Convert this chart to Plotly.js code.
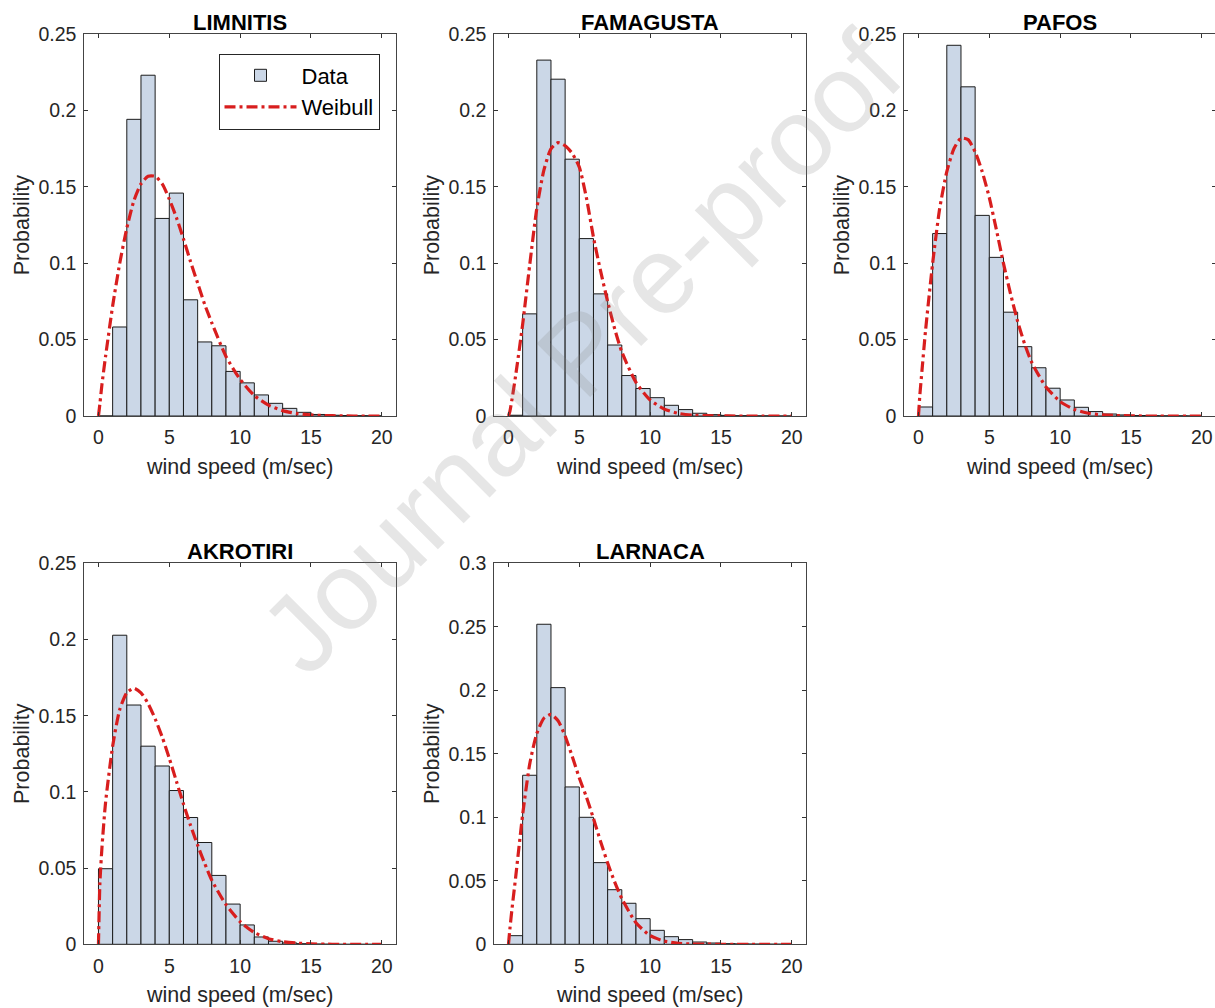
<!DOCTYPE html>
<html>
<head>
<meta charset="utf-8">
<script src="https://cdn.plot.ly/plotly-3.0.1.min.js"></script>
<style>
html,body{margin:0;padding:0;background:#fff;overflow:hidden;}
#chart{width:1216px;height:1008px;}
</style>
</head>
<body>
<div id="chart"></div>
<script>
// ---------- data ----------
const stations = ["LIMNITIS", "FAMAGUSTA", "PAFOS", "AKROTIRI", "LARNACA"];
const binCenters = [0.5,1.5,2.5,3.5,4.5,5.5,6.5,7.5,8.5,9.5,10.5,11.5,12.5,13.5,14.5,15.5,16.5,17.5,18.5,19.5];

const probLimnitis  = [0, 0.0583, 0.1943, 0.2232, 0.1294, 0.146, 0.0761, 0.0485, 0.046, 0.0292, 0.0217, 0.0138, 0.0083, 0.005, 0.0024, 0.001, 0.0005, 0.0003, 0.0002, 0.0001];
const probFamagusta = [0.0005, 0.0669, 0.2331, 0.2206, 0.1682, 0.1162, 0.080, 0.0465, 0.0265, 0.018, 0.012, 0.007, 0.0042, 0.0018, 0.0009, 0.0004, 0.0002, 0.0001, 0.0001, 0];
const probPafos     = [0.0059, 0.1195, 0.2428, 0.2156, 0.1314, 0.1039, 0.068, 0.0454, 0.0316, 0.0182, 0.0105, 0.0057, 0.0029, 0.0013, 0.0007, 0.0003, 0.0002, 0.0001, 0.0001, 0];
const probAkrotiri  = [0.0496, 0.2028, 0.157, 0.13, 0.117, 0.1009, 0.0832, 0.0668, 0.0452, 0.0264, 0.0127, 0.0048, 0.002, 0.0009, 0.0004, 0.0002, 0.0001, 0, 0, 0];
const probLarnaca   = [0.0068, 0.1331, 0.252, 0.2021, 0.1239, 0.1, 0.0643, 0.043, 0.0323, 0.0202, 0.011, 0.006, 0.0037, 0.0018, 0.001, 0.0005, 0.0003, 0.0002, 0.0001, 0.0001];

const curveX = [0,0.1,0.25,0.5,1,1.5,2,2.5,3,3.5,4,4.5,5,5.5,6,6.5,7,7.5,8,9,10,11,12,13,14,15,16,17,18,19,20];
const weibullLimnitis  = [0,0.008,0.021,0.039,0.072,0.100,0.123,0.141,0.152,0.157,0.157,0.152,0.142,0.130,0.116,0.101,0.087,0.073,0.061,0.039,0.024,0.0134,0.0071,0.0035,0.0016,0.0007,0.0003,0.0001,0,0,0];
const weibullFamagusta = [0,0.003,0.011,0.026,0.060,0.099,0.136,0.161,0.175,0.179,0.177,0.172,0.163,0.143,0.117,0.095,0.075,0.057,0.042,0.022,0.0105,0.0045,0.0017,0.0006,0.0002,0.0001,0,0,0,0,0];
const weibullPafos     = [0,0.014,0.030,0.056,0.100,0.136,0.160,0.175,0.182,0.181,0.173,0.160,0.143,0.122,0.100,0.080,0.062,0.047,0.035,0.019,0.0095,0.0043,0.0018,0.0007,0.0003,0.0001,0,0,0,0,0];
const weibullAkrotiri  = [0,0.040,0.064,0.093,0.130,0.154,0.165,0.168,0.165,0.158,0.148,0.136,0.122,0.107,0.092,0.078,0.065,0.053,0.042,0.026,0.0148,0.0077,0.0037,0.0017,0.0008,0.0003,0.0001,0,0,0,0];
const weibullLarnaca   = [0,0.012,0.028,0.052,0.102,0.142,0.166,0.178,0.181,0.176,0.164,0.148,0.131,0.116,0.099,0.081,0.064,0.049,0.036,0.017,0.0068,0.0025,0.0008,0.0002,0.0001,0,0,0,0,0,0];

const xTickVals = [0, 5, 10, 15, 20];
const yMaxes = [0.25, 0.25, 0.25, 0.25, 0.3];
const legendNames = ["Data", "Weibull"];
const xTitle = "wind speed (m/sec)";
const yTitle = "Probability";
const watermark = "Journal Pre-proof";

const probs = [probLimnitis, probFamagusta, probPafos, probAkrotiri, probLarnaca];
const curves = [weibullLimnitis, weibullFamagusta, weibullPafos, weibullAkrotiri, weibullLarnaca];

// ---------- layout geometry (pixels) ----------
const W = 1216, H = 1008;
const colX = [[84.3, 396], [494.3, 806], [904.3, 1216]];
const rowY = [[34.3, 416], [563.3, 944.3]];
const cells = [[0,0],[1,0],[2,0],[0,1],[1,1]];
const titleY = [22, 551];

const FONT = "Liberation Sans, Arial, Helvetica, sans-serif";
const AXCOL = "#262626";
const BARFILL = "#cbd7e7";
const BAREDGE = "#1c1c1c";
const RED = "#d81e1e";

const traces = [];
const layout = {
  width: W, height: H,
  margin: {l: 0, r: 0, t: 0, b: 0},
  paper_bgcolor: "#ffffff",
  plot_bgcolor: "#ffffff",
  font: {family: FONT, color: AXCOL},
  bargap: 0,
  showlegend: true,
  legend: {
    x: 218.5 / W, xanchor: "left",
    y: 1 - 53.5 / H, yanchor: "top",
    bgcolor: "#ffffff",
    bordercolor: "#262626",
    borderwidth: 1,
    font: {family: FONT, size: 22, color: "#000"},
    itemwidth: 72,
    tracegroupgap: 0
  },
  annotations: [],
  shapes: []
};

stations.forEach((name, i) => {
  const k = i + 1;
  const xa = k === 1 ? "x" : "x" + k;
  const ya = k === 1 ? "y" : "y" + k;
  const [c, r] = cells[i];
  traces.push({
    type: "bar",
    x: binCenters,
    y: probs[i],
    width: 1,
    xaxis: xa, yaxis: ya,
    name: legendNames[0],
    showlegend: i === 0,
    marker: {color: BARFILL, line: {color: BAREDGE, width: 1}},
    hoverinfo: "x+y"
  });
  traces.push({
    type: "scatter",
    mode: "lines",
    x: curveX,
    y: curves[i],
    xaxis: xa, yaxis: ya,
    name: legendNames[1],
    showlegend: i === 0,
    line: {color: RED, width: 3.2, dash: "11px,4px,3px,4px", shape: "spline", smoothing: 0.6}
  });
  const xKey = k === 1 ? "xaxis" : "xaxis" + k;
  const yKey = k === 1 ? "yaxis" : "yaxis" + k;
  layout[xKey] = {
    domain: [colX[c][0] / W, colX[c][1] / W],
    anchor: ya,
    range: [-1, 21],
    tickvals: xTickVals,
    ticks: "inside", ticklen: 4, tickwidth: 1, tickcolor: "#333",
    showline: true, linecolor: "#444", linewidth: 1, mirror: "ticks",
    showgrid: false, zeroline: false,
    tickfont: {family: FONT, size: 19.5, color: AXCOL},
    ticklabelstandoff: 4,
    title: {text: xTitle, font: {family: FONT, size: 21.5, color: AXCOL}, standoff: 11},
    automargin: false,
    fixedrange: true
  };
  layout[yKey] = {
    domain: [1 - rowY[r][1] / H, 1 - rowY[r][0] / H],
    anchor: xa,
    range: [0, yMaxes[i]],
    dtick: 0.05, tick0: 0,
    ticks: "inside", ticklen: 4, tickwidth: 1, tickcolor: "#333",
    showline: true, linecolor: "#444", linewidth: 1, mirror: "ticks",
    showgrid: false, zeroline: false,
    tickfont: {family: FONT, size: 19.5, color: AXCOL},
    ticklabelstandoff: 3,
    title: {text: yTitle, font: {family: FONT, size: 21.5, color: AXCOL}, standoff: 2},
    automargin: false,
    fixedrange: true
  };
  layout.annotations.push({
    xref: "paper", yref: "paper",
    x: (colX[c][0] + colX[c][1]) / 2 / W,
    y: 1 - titleY[r] / H,
    xanchor: "center", yanchor: "middle",
    text: name, showarrow: false,
    font: {family: FONT, size: 22, color: "#000", weight: "bold"}
  });
});

// watermark, sized so that it stays inside the picture
layout.annotations.push({
  xref: "paper", yref: "paper",
  x: 580 / W, y: 1 - 352 / H,
  xanchor: "center", yanchor: "middle",
  text: watermark, showarrow: false, textangle: -45,
  font: {family: FONT, size: 110, color: "rgba(128,128,128,0.2)"}
});

Plotly.newPlot("chart", traces, layout, {displayModeBar: false, staticPlot: true});
</script>
</body>
</html>
